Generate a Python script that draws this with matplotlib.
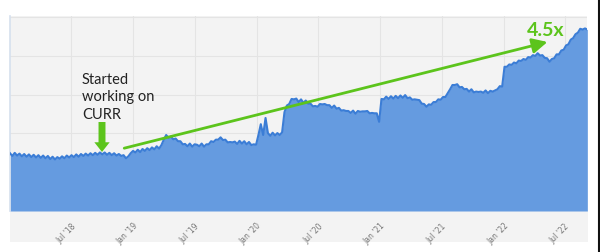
import matplotlib.pyplot as plt
import pandas as pd
from matplotlib.lines import Line2D
from matplotlib.patches import Rectangle
from matplotlib.transforms import ScaledTranslation

# weekly traffic level (arbitrary units, gridlines every 10)
traffic = [
    # 2018
    14.9, 14.2, 15.0, 14.3, 14.8,
    14.1, 14.7, 14.0, 14.6,
    13.9, 14.5, 13.8, 14.4,
    13.7, 14.3, 13.6, 14.2,
    13.4, 14.0, 13.3, 13.9, 13.5,
    14.1, 13.6, 14.3, 13.8,
    14.4, 13.9, 14.6, 14.0,
    14.7, 14.2, 14.8, 14.3, 14.9,
    14.4, 15.0, 14.5, 15.1,
    14.6, 15.1, 14.5, 15.0,
    14.4, 14.9, 14.3, 14.7, 14.2,
    14.4, 13.6, 14.1, 14.9, 15.5,
    # 2019
    15.1, 15.8, 15.2, 16.0,
    15.5, 16.2, 15.7, 16.4,
    15.9, 16.7, 16.1, 17.0,
    18.4, 19.6, 18.9, 19.2, 18.5,
    18.7, 18.0, 18.0, 17.2,
    17.3, 16.7, 17.4, 16.6,
    17.2, 17.1, 16.7, 17.4, 16.6,
    17.2, 17.2, 18.0, 17.8,
    18.4, 18.4, 19.0, 18.3, 18.4,
    17.7, 17.8, 17.7, 17.9,
    17.3, 18.1, 17.4, 18.0,
    17.2, 17.8, 17.0, 17.2, 17.1,
    # 2020
    19.6, 22.4, 19.6, 24.0,
    20.1, 19.4, 20.2, 19.5,
    20.1, 19.6, 20.3, 25.5, 27.2,
    27.6, 28.9, 28.8, 29.0,
    28.1, 28.8, 27.9, 28.5,
    27.7, 27.7, 27.0, 27.1, 26.9,
    27.6, 27.5, 27.6, 27.3,
    27.3, 26.6, 27.2, 26.4, 26.6,
    25.9, 26.0, 25.8, 25.8,
    25.3, 25.9, 25.1, 25.8,
    25.6, 25.7, 25.7, 25.8, 25.2,
    25.3, 25.2, 25.2, 23.0,
    # 2021
    28.9, 28.8, 29.5, 28.9,
    29.6, 29.0, 29.7, 29.1,
    29.8, 29.2, 29.9, 29.1, 29.3,
    28.7, 28.8, 28.7, 28.6,
    27.7, 27.6, 26.9, 27.5, 27.4,
    28.1, 28.1, 28.8, 28.7,
    29.4, 29.4, 30.4, 31.4,
    32.5, 32.5, 32.7, 31.9, 32.0,
    31.4, 31.5, 30.8, 31.4,
    30.6, 30.8, 30.7, 30.8,
    30.5, 31.1, 30.4, 31.0, 30.8,
    31.1, 31.4, 32.2, 32.1,
    # 2022
    37.2, 37.2, 37.8, 37.7, 38.3,
    38.1, 38.8, 38.7, 39.2,
    39.0, 39.7, 39.6, 40.2,
    40.0, 40.7, 40.1, 40.2,
    39.5, 39.4, 38.5, 39.2, 39.4,
    40.4, 40.4, 41.4, 41.6,
    42.7, 43.0, 44.2, 44.6,
    45.6, 46.0, 47.0, 46.8, 47.1,
    46.8,
]
dates = pd.date_range('2018-01-01', periods=len(traffic), freq='7D')

tick_dates = pd.to_datetime(['2018-07-01', '2019-01-01', '2019-07-01', '2020-01-01',
                             '2020-07-01', '2021-01-01', '2021-07-01', '2022-01-01',
                             '2022-07-01'])
tick_labels = ["Jul '18", "Jan '19", "Jul '19", "Jan '20", "Jul '20",
               "Jan '21", "Jul '21", "Jan '22", "Jul '22"]

green = '#5cc41c'
W, H = 600, 253

fig = plt.figure(figsize=(6, 2.53), dpi=100)
fig.patch.set_facecolor('white')

# grey strip under the axes holding the tick labels
fig.add_artist(Rectangle((10 / W, 10 / H), 578 / W, 32 / H, transform=fig.transFigure,
                         facecolor='#f3f3f3', edgecolor='none', zorder=0))
# dark border at the right edge of the screenshot
fig.add_artist(Line2D([598.5 / W, 598.5 / W], [0, 1], transform=fig.transFigure,
                      color='#111111', lw=1.5))

ax = fig.add_axes([10 / W, 41 / H, 577 / W, 195 / H])
ax.set_facecolor('#f3f3f3')

ax.fill_between(dates, traffic, color='#659be0', lw=0, zorder=2)
ax.plot(dates, traffic, color='#3b7dd6', lw=1.5, zorder=3)

ax.set_xlim(pd.Timestamp('2018-01-01'), pd.Timestamp('2022-09-04'))
ax.set_ylim(0, 50.3)
ax.set_yticks([10, 20, 30, 40, 50])
ax.set_xticks(tick_dates)
ax.set_xticklabels(tick_labels, rotation=45, ha='right', rotation_mode='anchor',
                   fontsize=5.5, color='#777777')
shift = ScaledTranslation(-5 / 100, 0, fig.dpi_scale_trans)
for lbl in ax.get_xticklabels():
    lbl.set_transform(lbl.get_transform() + shift)
ax.tick_params(axis='x', length=0, pad=7)
ax.tick_params(axis='y', length=0, labelleft=False)
ax.grid(True, color='#e4e4e4', lw=0.8, zorder=1)
ax.set_axisbelow(True)
for side in ['top', 'right', 'bottom']:
    ax.spines[side].set_visible(False)
ax.spines['left'].set_color('#d6e0ee')
ax.spines['left'].set_linewidth(1.2)

# growth arrow
ax.annotate('', xy=(pd.Timestamp('2022-05-10'), 43.6),
            xytext=(pd.Timestamp('2018-12-05'), 16.2),
            arrowprops=dict(arrowstyle='-|>,head_length=0.9,head_width=0.45',
                            color=green, lw=2.0, shrinkA=0, shrinkB=0), zorder=5)
fig.text(546 / W, 1 - 30 / H, '4.5x', color=green, fontsize=14, fontweight='bold',
         family='Lato', ha='center', va='center')

# "Started working on CURR" marker
fig.text(82 / W, 1 - 73 / H, 'Started\nworking on\nCURR', color='#222222',
         fontsize=10.5, family='Lato', ha='left', va='top', linespacing=1.3)
ax.annotate('', xy=(102, H - 153), xytext=(102, H - 123),
            xycoords='figure pixels', textcoords='figure pixels',
            arrowprops=dict(arrowstyle='simple,head_length=0.7,head_width=1.1,tail_width=0.5',
                            color=green, lw=0, shrinkA=0, shrinkB=0), zorder=5)

fig.savefig('out.png', dpi=100, facecolor='white')
